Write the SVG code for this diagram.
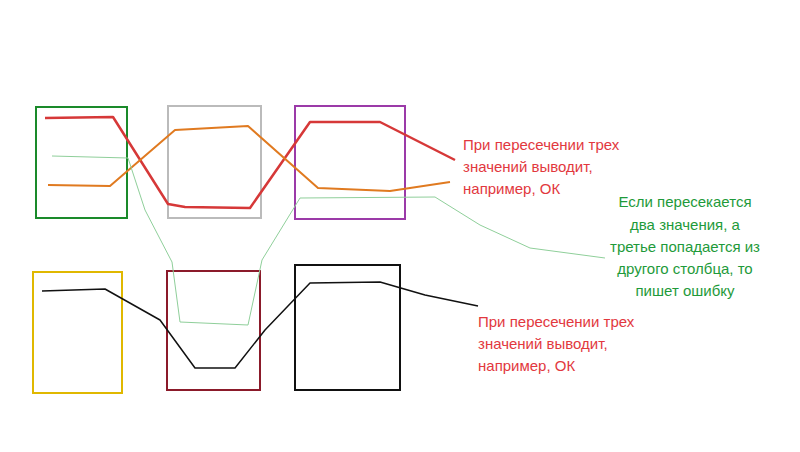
<svg xmlns="http://www.w3.org/2000/svg" width="800" height="452" viewBox="0 0 800 452">
<style>
.b{fill:none;stroke-width:2}
.l{fill:none;stroke-linejoin:round}
.t{font-family:"Liberation Sans",Arial,sans-serif;font-size:15px}
.r{fill:#e2383e}.g{fill:#1e9a3a;text-anchor:middle}
</style>
<rect width="800" height="452" fill="#fff"/>
<g id="boxes">
<rect class="b" x="36" y="107" width="91" height="111" stroke="#1a8a2a"/>
<rect class="b" x="168" y="106" width="93" height="112" stroke="#bbbbbb"/>
<rect class="b" x="295" y="106" width="110" height="113" stroke="#9b3aa8"/>
<rect class="b" x="33" y="272" width="89" height="121" stroke="#e0b800"/>
<rect class="b" x="167" y="271" width="93" height="119" stroke="#8b1a2a"/>
<rect class="b" x="295" y="265" width="105" height="125" stroke="#111"/>
</g>
<g id="lines">
<polyline class="l" stroke="#d63838" stroke-width="2.5" points="45,118 113,117 168,204 185,207 250,208 310,122 380,122 455,160"/>
<polyline class="l" stroke="#e07a20" stroke-width="2" points="48,185 110,186 175,130 248,126 318,188 390,191 450,182"/>
<polyline class="l" stroke="#8fcf9a" stroke-width="1" points="52,156 128,158 145,210 172,262 180,322 248,325 262,260 300,198 435,197 480,225 530,248 605,258"/>
<polyline class="l" stroke="#111" stroke-width="1.5" points="42,291 105,289 160,320 195,368 235,368 265,330 310,283 380,282 425,295 478,306"/>
</g>
<g id="labels">
<text class="t r" x="463" y="150">При пересечении трех</text>
<text class="t r" x="463" y="172">значений выводит,</text>
<text class="t r" x="463" y="194">например, ОК</text>
<text class="t g" x="685" y="207">Если пересекается</text>
<text class="t g" x="685" y="230">два значения, а</text>
<text class="t g" x="685" y="252">третье попадается из</text>
<text class="t g" x="685" y="274">другого столбца, то</text>
<text class="t g" x="685" y="296">пишет ошибку</text>
<text class="t r" x="478" y="327">При пересечении трех</text>
<text class="t r" x="478" y="349">значений выводит,</text>
<text class="t r" x="478" y="371">например, ОК</text>
</g>
</svg>
